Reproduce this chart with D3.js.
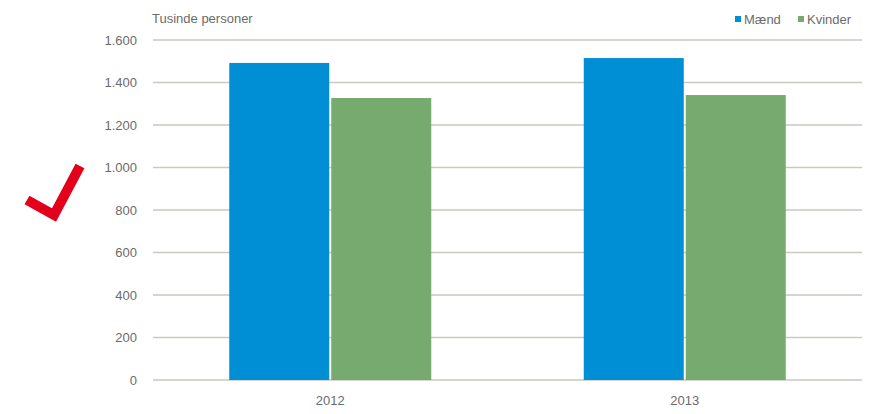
<!DOCTYPE html>
<html>
<head>
<meta charset="utf-8">
<script src="https://cdn.jsdelivr.net/npm/d3@7"></script>
<style>
  body { margin: 0; background: #fff; }
  svg { font-family: "Liberation Sans", Arial, sans-serif; }
</style>
</head>
<body>
<div id="chart"></div>
<script>
// Tusinde personer, 2012-2013
var years = ["2012", "2013"];
var series = ["Mænd", "Kvinder"];
var maend = [1492, 1515];
var kvinder = [1327, 1341];
var yTicks = [0, 200, 400, 600, 800, 1000, 1200, 1400, 1600];
var colors = ["#008fd5", "#77aa6e"];

var width = 884, height = 414;
var margin = {top: 40, right: 22, bottom: 34, left: 153};

var svg = d3.select("#chart").append("svg")
    .attr("width", width)
    .attr("height", height);

var x0 = d3.scaleBand()
    .domain(years)
    .range([margin.left, width - margin.right]);

var barW = 101;
var x1 = d3.scaleBand()
    .domain(series)
    .range([x0.bandwidth() / 2 - barW, x0.bandwidth() / 2 + barW]);

var y = d3.scaleLinear()
    .domain([0, 1600])
    .range([height - margin.bottom, margin.top]);

var fmt = function (d) { return d3.format(",")(d).replace(/,/g, "."); };

// gridlines
svg.append("g")
  .selectAll("line")
  .data(yTicks)
  .enter().append("line")
    .attr("x1", margin.left)
    .attr("x2", width - margin.right)
    .attr("y1", function (d) { return y(d); })
    .attr("y2", function (d) { return y(d); })
    .attr("stroke", "#c9c9c0")
    .attr("stroke-width", 1.5);

// y labels
svg.append("g")
  .selectAll("text")
  .data(yTicks)
  .enter().append("text")
    .attr("x", 137)
    .attr("y", function (d) { return y(d); })
    .attr("dy", "0.35em")
    .attr("text-anchor", "end")
    .attr("font-size", 13)
    .attr("fill", "#6b6b6b")
    .text(fmt);

// bars
var data = years.map(function (yr, i) {
  return {year: yr, values: [maend[i], kvinder[i]]};
});

var grp = svg.append("g")
  .selectAll("g")
  .data(data)
  .enter().append("g")
    .attr("transform", function (d) { return "translate(" + x0(d.year) + ",0)"; });

grp.selectAll("rect")
  .data(function (d) { return d.values.map(function (v, j) { return {s: series[j], v: v, j: j}; }); })
  .enter().append("rect")
    .attr("x", function (d) { return x1(d.s) + (d.j === 1 ? 1 : 0); })
    .attr("width", function (d) { return barW - 1; })
    .attr("y", function (d) { return y(d.v); })
    .attr("height", function (d) { return y(0) - y(d.v); })
    .attr("fill", function (d) { return colors[d.j]; });

// x labels
svg.append("g")
  .selectAll("text")
  .data(years)
  .enter().append("text")
    .attr("x", function (d) { return x0(d) + x0.bandwidth() / 2; })
    .attr("y", 405)
    .attr("text-anchor", "middle")
    .attr("font-size", 13)
    .attr("fill", "#6b6b6b")
    .text(function (d) { return d; });

// title
svg.append("text")
  .attr("x", 152)
  .attr("y", 23)
  .attr("font-size", 13)
  .attr("fill", "#6b6b6b")
  .text("Tusinde personer");

// legend
var legX = [735, 798];
var leg = svg.append("g")
  .selectAll("g")
  .data(series)
  .enter().append("g")
    .attr("transform", function (d, i) { return "translate(" + legX[i] + ",0)"; });
leg.append("rect")
  .attr("x", 0).attr("y", 16)
  .attr("width", 6).attr("height", 6)
  .attr("fill", function (d, i) { return colors[i]; });
leg.append("text")
  .attr("x", 9).attr("y", 24)
  .attr("font-size", 13)
  .attr("fill", "#6b6b6b")
  .text(function (d) { return d; });

// red check mark
svg.append("path")
  .attr("d", "M27,200 L54,215 L80,166")
  .attr("fill", "none")
  .attr("stroke", "#e2001a")
  .attr("stroke-width", 10)
  .attr("stroke-linejoin", "miter");
</script>
</body>
</html>
